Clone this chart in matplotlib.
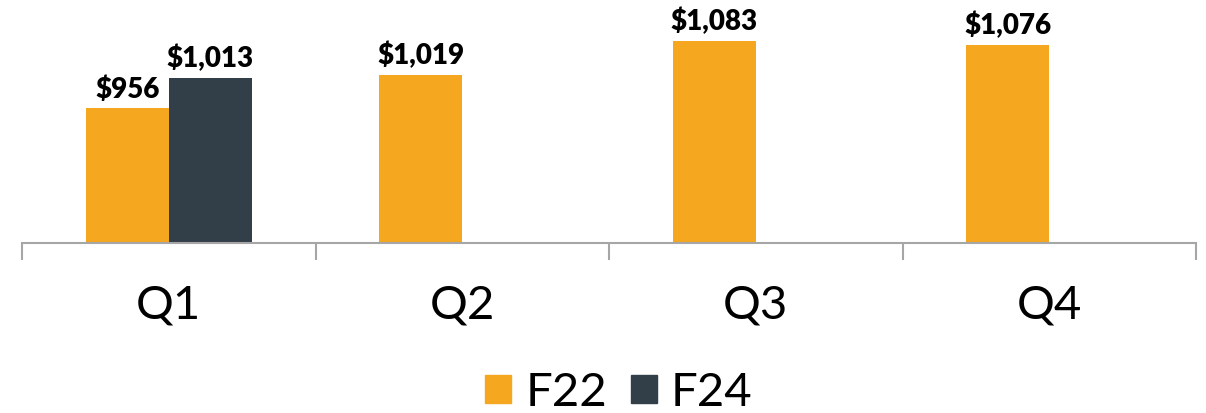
import numpy as np
import matplotlib
matplotlib.use("Agg")
import matplotlib.pyplot as plt
from matplotlib.patches import Patch

quarters = ["Q1", "Q2", "Q3", "Q4"]
f22 = [956, 1019, 1083, 1076]
f24 = [1013, np.nan, np.nan, np.nan]
series_names = ["F22", "F24"]
colors = ["#F4A71F", "#323E48"]

plt.rcParams['font.family'] = ['Lato', 'DejaVu Sans']

fig = plt.figure(figsize=(12.06, 4.13), dpi=100)
ax = fig.add_axes([22/1206, 170/413, 1174/1206, 243/413])

x = np.arange(len(quarters))
w = 0.283
b1 = ax.bar(x - w/2, f22, w, color=colors[0])
b2 = ax.bar(x + w/2, f24, w, color=colors[1])

for bars, vals in [(b1, f22), (b2, f24)]:
    for rect, v in zip(bars, vals):
        if np.isnan(v):
            continue
        ax.annotate(f"${v:,.0f}", (rect.get_x() + rect.get_width()/2, v),
                    xytext=(0, 4), textcoords="offset points",
                    ha="center", va="bottom", fontsize=20, fontweight="heavy")

ax.set_xlim(-0.5, 3.5)
ax.set_ylim(702, 1160)
ax.set_yticks([])
for s in ["top", "right", "left"]:
    ax.spines[s].set_visible(False)
ax.spines["bottom"].set_color("#A6A6A6")
ax.spines["bottom"].set_linewidth(1.5)

ax.set_xticks(np.arange(-0.5, 4, 1))
ax.set_xticklabels([])
ax.tick_params(axis="x", length=12, width=1.5, color="#A6A6A6", direction="out")
for i, q in enumerate(quarters):
    ax.text(i, -0.17, q, transform=ax.get_xaxis_transform(), ha="center", va="top",
            fontsize=34, color="black")

handles = [Patch(color=c, label=n) for c, n in zip(colors, series_names)]
fig.legend(handles=handles, loc="lower center", bbox_to_anchor=(0.513, -0.105), ncol=2,
           frameon=False, prop={"size": 34},
           handlelength=0.55, handleheight=0.55, handletextpad=0.3, columnspacing=0.5)

fig.savefig("out.png", dpi=100)
